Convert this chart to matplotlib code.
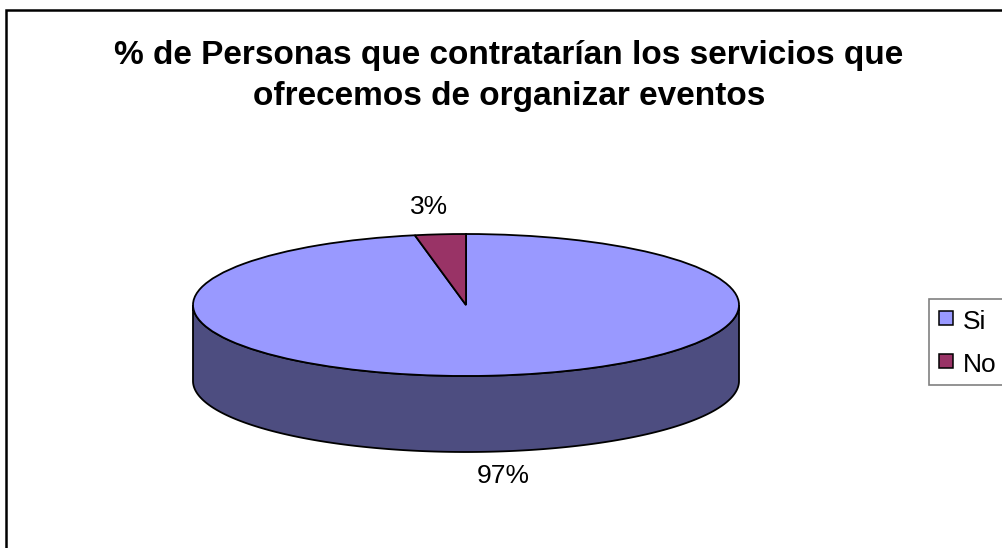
import numpy as np
import matplotlib
matplotlib.use('Agg')
import matplotlib.pyplot as plt
from matplotlib.patches import Rectangle
from matplotlib.lines import Line2D

plt.rcParams['font.family'] = ['Liberation Sans', 'DejaVu Sans']

titulo = '% de Personas que contratarían los servicios que\nofrecemos de organizar eventos'
categorias = ['Si', 'No']
valores = [97, 3]
etiquetas = ['97%', '3%']
colores = ['#9999FF', '#993366']
color_lado = '#4D4D80'

W, H = 1002, 548
fig = plt.figure(figsize=(W / 100, H / 100), dpi=100)
fig.patch.set_facecolor('white')

# marco exterior del grafico
fig.add_artist(Rectangle((6.3 / W, -0.01), 1.1, 1 - 9.5 / H + 0.01, transform=fig.transFigure,
                         fill=False, edgecolor='black', linewidth=1.8))

# la tarta ocupa el radio 1 dentro de limites de +-1.25
cx, cy, rx, ry = 466, 305, 273, 71
ax = fig.add_axes([(cx - 1.25 * rx) / W, 1 - (cy + 1.25 * ry) / H, 2.5 * rx / W, 2.5 * ry / H])
cunas, _ = ax.pie(valores, colors=colores, startangle=90, counterclock=False,
                  wedgeprops={'edgecolor': 'black', 'linewidth': 1.3, 'zorder': 3})
ax.set_aspect('auto')
for c in cunas:
    c.set_clip_on(False)

# lateral del cilindro, mitad delantera de la elipse
t = np.linspace(np.pi, 2 * np.pi, 200)
xs = np.cos(t)
ys = np.sin(t)
alto = 76 / ry
ax.fill(np.r_[xs, xs[::-1]], np.r_[ys, ys[::-1] - alto], facecolor=color_lado,
        edgecolor='black', linewidth=1.3, zorder=1, clip_on=False)

fig.text(509 / W, 1 - 76 / H, titulo, ha='center', va='center', fontsize=24,
         fontweight='bold', linespacing=1.4)
fig.text(429.5 / W, 1 - 207 / H, etiquetas[1], ha='center', va='center', fontsize=19)
fig.text(503 / W, 1 - 476 / H, etiquetas[0], ha='center', va='center', fontsize=19)

# leyenda a la derecha, con marcadores cuadrados
manejadores = [Line2D([], [], linestyle='none', marker='s', markersize=10.5, markerfacecolor=col,
                      markeredgecolor='black', markeredgewidth=1.1) for col in colores]
leg = fig.legend(manejadores, categorias, loc='upper left', bbox_to_anchor=(929 / W, 1 - 299 / H),
                 fontsize=19, frameon=True, fancybox=False, edgecolor='#808080', framealpha=1,
                 handlelength=0.75, handleheight=1.25, handletextpad=0.26, borderpad=0.28,
                 labelspacing=0.57, borderaxespad=0, numpoints=1)
leg.get_frame().set_linewidth(1.2)

fig.savefig('out.png', dpi=100)
